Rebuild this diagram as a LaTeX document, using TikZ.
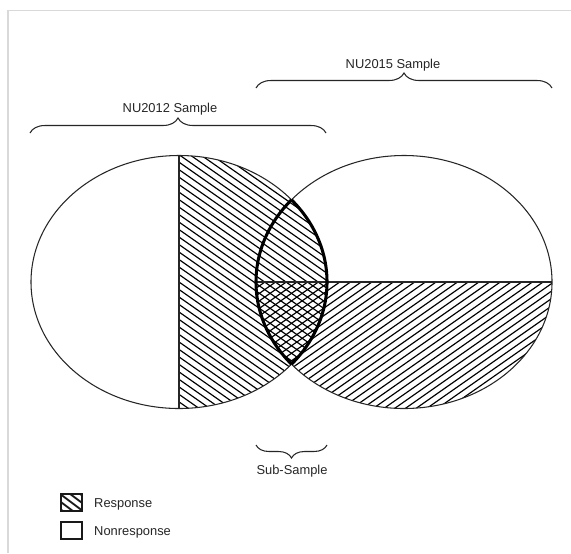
\documentclass[tikz,border=0pt]{standalone}
\usepackage{fontspec}
\setmainfont{Liberation Sans}
\usetikzlibrary{decorations.pathreplacing}
\begin{document}
\begin{tikzpicture}[x=0.03cm,y=-0.03cm,
  outline/.style={draw=black!85, line width=0.9pt},
  hatchline/.style={draw=black, line width=1pt},
  lens/.style={draw=black, line width=2.6pt},
  lbl/.style={font=\fontsize{11}{13}\selectfont, text=black!85, inner sep=0pt},
  bracestyle/.style={decorate, draw=black!85, line width=0.9pt},
  legbox/.style={draw=black!90, line width=1.2pt, minimum width=0.63cm, minimum height=0.51cm, inner sep=0pt},
]
\useasboundingbox (0,0) rectangle (571,553);
\fill[white] (0,0) rectangle (571,553);
\draw[black!15, line width=1.3pt] (8,553) -- (8,10.5) -- (571,10.5);

\coordinate (cL) at (179,282);
\coordinate (cR) at (404,282);

% right half of the NU2012 ellipse
\begin{scope}
  \clip (179,150) rectangle (330,415);
  \clip (cL) ellipse [x radius=4.44cm, y radius=3.795cm];
  \foreach \k in {-20,...,35}
    \draw[hatchline] (179+\k*10.7-200,142) -- (179+\k*10.7+200,422);
\end{scope}

% bottom half of the NU2015 ellipse
\begin{scope}
  \clip (250,282) rectangle (560,415);
  \clip (cR) ellipse [x radius=4.44cm, y radius=3.795cm];
  \foreach \k in {-20,...,35}
    \draw[hatchline] (404+\k*10.7-200,422) -- (404+\k*10.7+200,142);
\end{scope}

% outlines
\draw[outline] (cL) ellipse [x radius=4.44cm, y radius=3.795cm];
\draw[outline] (cR) ellipse [x radius=4.44cm, y radius=3.795cm];
\coordinate (vtop) at (179,155.5);
\coordinate (vbot) at (179,408.5);
\draw[outline] (vtop) -- (vbot);
\coordinate (hl) at (256,282);
\coordinate (hr) at (552,282);
\draw[outline] (hl) -- (hr);

% lens (sub-sample)
\begin{scope}
  \clip (cR) ellipse [x radius=4.44cm, y radius=3.795cm];
  \draw[lens] (cL) ellipse [x radius=4.44cm, y radius=3.795cm];
\end{scope}
\begin{scope}
  \clip (cL) ellipse [x radius=4.44cm, y radius=3.795cm];
  \draw[lens] (cR) ellipse [x radius=4.44cm, y radius=3.795cm];
\end{scope}

% braces
\coordinate (b15a) at (256,88);
\coordinate (b15b) at (552,88);
\draw[bracestyle, decoration={brace, amplitude=0.45cm}] (b15a) -- (b15b);
\node[lbl, anchor=base] (l15) at (393,68.3) {NU2015 Sample};

\coordinate (b12a) at (30,133);
\coordinate (b12b) at (326,133);
\draw[bracestyle, decoration={brace, amplitude=0.45cm}] (b12a) -- (b12b);
\node[lbl, anchor=base] (l12) at (170,112.3) {NU2012 Sample};

\coordinate (bsa) at (327,445);
\coordinate (bsb) at (256,445);
\draw[bracestyle, decoration={brace, amplitude=0.39cm}] (bsa) -- (bsb);
\node[lbl, anchor=base] (lsub) at (292,474) {Sub-Sample};

% legend
\node[legbox, path picture={
  \foreach \k in {-2,...,2}
    \draw[line width=1.6pt] ([xshift=\k*0.3cm-0.4cm, yshift=0.3cm]path picture bounding box.center) -- ++(0.8cm,-0.6cm);
}] (kresp) at (71.5,502.5) {};
\node[lbl, anchor=base west] (tresp) at (94,507.5) {Response};
\node[legbox] (knon) at (71.5,530.5) {};
\node[lbl, anchor=base west] (tnon) at (94,535) {Nonresponse};
\end{tikzpicture}
\end{document}
